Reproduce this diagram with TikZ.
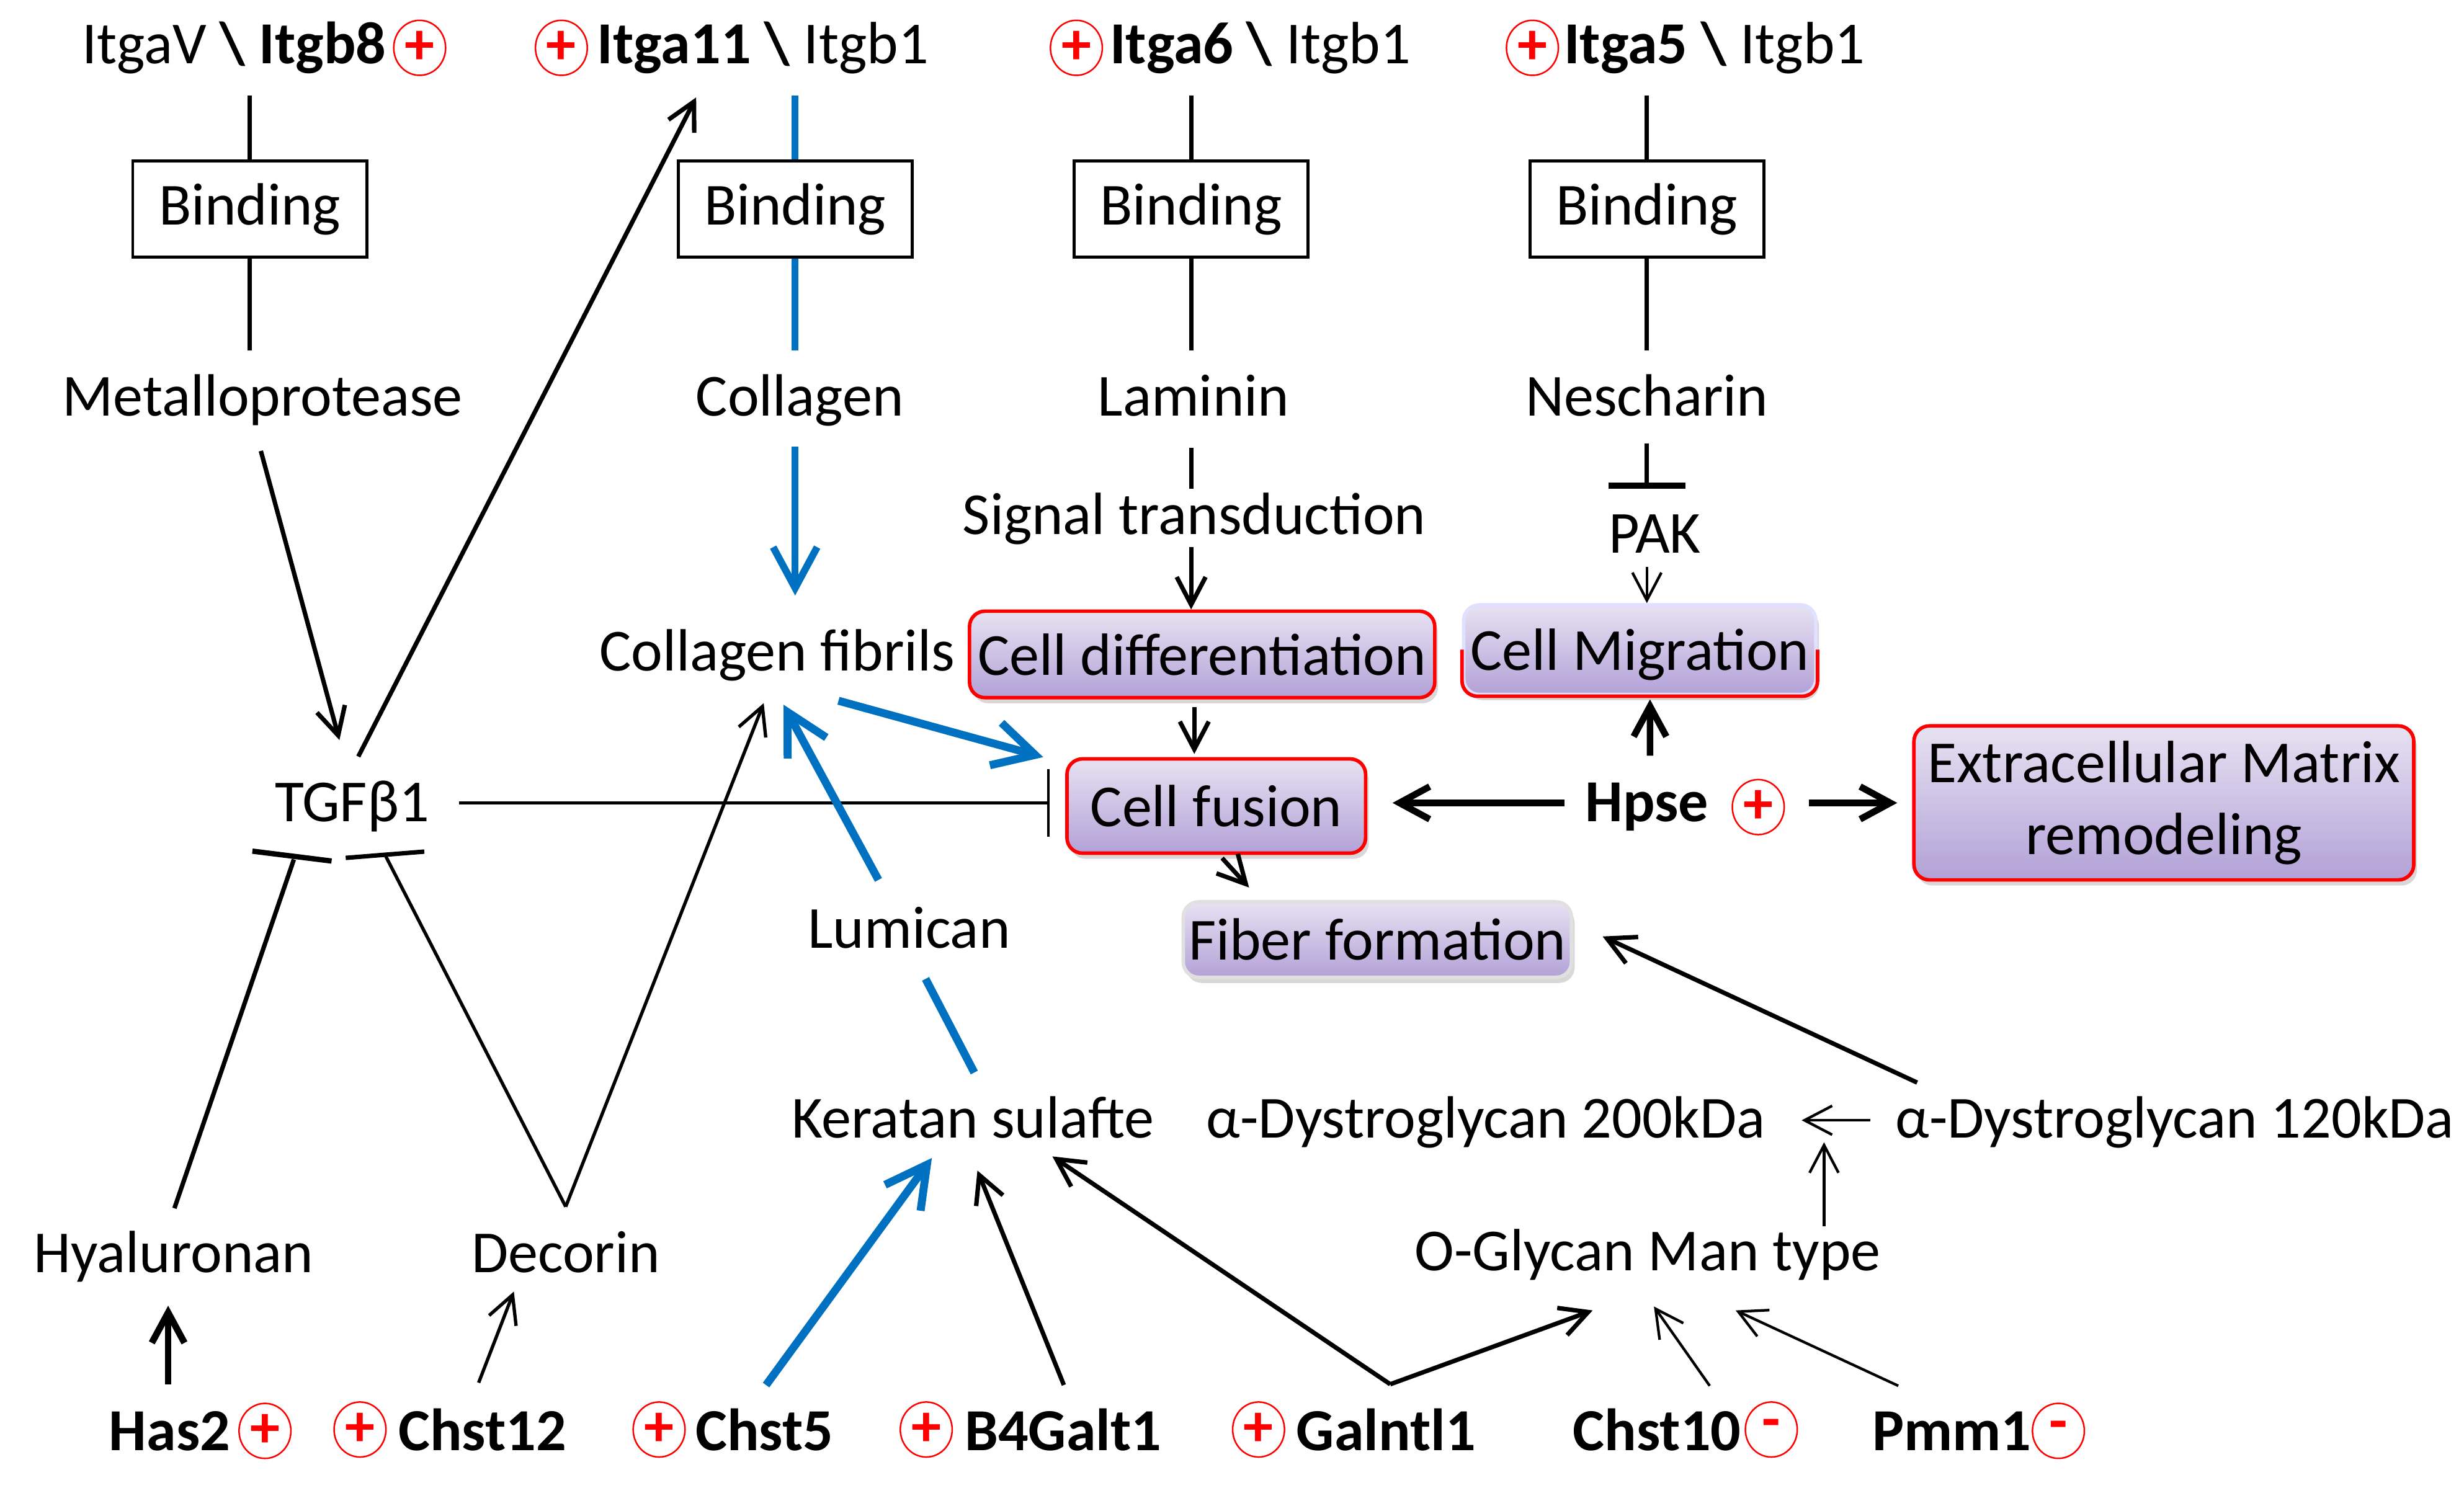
\documentclass[tikz,border=0pt]{standalone}
\usepackage{fontspec}
\setmainfont{Carlito}
\usetikzlibrary{arrows.meta, positioning, calc, shapes.geometric, shadows}
\definecolor{igblue}{HTML}{0070C0}
\definecolor{lavtop}{HTML}{E7E2F2}
\definecolor{lavbot}{HTML}{B3A1D7}
\definecolor{sigred}{HTML}{FF0000}

\begin{document}
\begin{tikzpicture}[x=0.025cm, y=-0.025cm,
  >={Straight Barb[length=4.4mm, width=4.6mm]},
  txt/.style={anchor=base, inner sep=0pt, font=\fontsize{27}{32}\selectfont},
  gene/.style={txt, font=\fontsize{27}{32}\selectfont\bfseries},
  bindbox/.style={draw, line width=1.4pt, minimum width=37.25mm, minimum height=15.25mm,
    inner sep=0pt, font=\fontsize{27}{32}\selectfont},
  procbox/.style={draw=sigred, line width=1.6pt, rounded corners=7pt, top color=lavtop,
    bottom color=lavbot, inner sep=0pt, align=center, font=\fontsize{27}{32.5}\selectfont,
    drop shadow={opacity=0.3, shadow xshift=0.5mm, shadow yshift=-0.9mm}},
  upmark/.style={ellipse, draw=sigred, line width=0.7pt, minimum width=8.25mm,
    minimum height=8.75mm, inner sep=0pt, text=sigred, font=\fontsize{27}{32}\selectfont\bfseries},
  link/.style={line width=2pt},
  fine/.style={line width=1.2pt},
  heavy/.style={line width=3pt, -{Straight Barb[length=4.8mm, width=5.2mm]}},
  bluelink/.style={igblue, line width=3pt},
  bluearrow/.style={igblue, line width=3.6pt, -{Straight Barb[length=6.5mm, width=7mm]}}]

% Canvas — 1 unit = one pixel of a 1568 x 947 layout, y runs downwards
\fill[white] (0,0) rectangle (1568,947);
\useasboundingbox (0,0) rectangle (1568,947);

% Integrin receptors (top row, baseline y = 40.5)
\node[txt] (itgav) at (149,40.5) {ItgaV \textbf{\textbackslash\ Itgb8}};
\node[upmark, right=1mm of itgav] (itgavS) {+};
\node[txt] (itga11) at (485.5,40.5) {\textbf{Itga11 \textbackslash} Itgb1};
\node[upmark, left=1.4mm of itga11] (itga11S) {+};
\node[txt] (itga6) at (802,40.5) {\textbf{Itga6 \textbackslash} Itgb1};
\node[upmark, left=1mm of itga6] (itga6S) {+};
\node[txt] (itga5) at (1091,40.5) {\textbf{Itga5 \textbackslash} Itgb1};
\node[upmark, left=0.7mm of itga5] (itga5S) {+};

% Binding boxes
\node[bindbox] (bind1) at (159,133) {Binding};
\node[bindbox] (bind2) at (506,133) {Binding};
\node[bindbox] (bind3) at (758,133) {Binding};
\node[bindbox] (bind4) at (1048,133) {Binding};

% Ligands (baseline y = 264.5)
\node[txt] (metal) at (167,264.5) {Metalloprotease};
\node[txt] (collagen) at (509,264.5) {Collagen};
\node[txt] (laminin) at (759.5,264.5) {Laminin};
\node[txt] (nesch) at (1048,264.5) {Nescharin};
\node[txt] (signal) at (760,340) {Signal transduction};
\node[txt] (pak) at (1053,352) {PAK};

% Processes
\node[txt] (fibrils) at (494.6,427) {Collagen fibrils};
\node[procbox, minimum width=74mm, minimum height=13.75mm] (diff) at (765,416.5) {Cell differentiation};
\node[procbox, draw=blue!12, text depth=0pt, minimum width=56mm, minimum height=14.25mm] (migr) at (1043.5,413.5) {Cell Migration};
\draw[sigred, line width=1.6pt, rounded corners=7pt] (migr.west) |- (migr.south) -| (migr.east);
\node[txt] (tgf) at (224,523) {TGFβ1};
\node[procbox, minimum width=47.5mm, minimum height=15mm] (fusion) at (774,513) {Cell fusion};
\node[gene] (hpse) at (1048,523) {Hpse};
\node[upmark, right=3.6mm of hpse] (hpseS) {+};
\node[procbox, minimum width=79.5mm, minimum height=24.5mm] (ecm) at (1377,511) {Extracellular Matrix\\remodeling};
\node[procbox, draw=black!12, minimum width=61.75mm, minimum height=12mm] (fiber) at (876.5,598) {Fiber formation};
\node[txt] (lumican) at (578.5,603.5) {Lumican};

% Glycans (baseline y = 724 and 809)
\node[txt] (keratan) at (619,724) {Keratan sulafte};
\node[txt] (dg200) at (945.5,724) {α-Dystroglycan 200kDa};
\node[txt] (dg120) at (1384,724) {α-Dystroglycan 120kDa};
\node[txt] (oglycan) at (1048.5,808.5) {O-Glycan Man type};
\node[txt] (hyal) at (110.5,810) {Hyaluronan};
\node[txt] (decorin) at (360,810) {Decorin};

% Genes (bottom row, baseline y = 923)
\node[gene] (has2) at (108,923) {Has2};
\node[upmark, right=1.2mm of has2] (has2S) {+};
\node[gene] (chst12) at (307,923) {Chst12};
\node[upmark, left=1.8mm of chst12] (chst12S) {+};
\node[gene] (chst5) at (486.5,923) {Chst5};
\node[upmark, left=1.5mm of chst5] (chst5S) {+};
\node[gene] (b4galt1) at (676.5,923) {B4Galt1};
\node[upmark, left=1.8mm of b4galt1] (b4galt1S) {+};
\node[gene] (galntl1) at (882,923) {Galntl1};
\node[upmark, left=1.7mm of galntl1] (galntl1S) {+};
\node[gene] (chst10) at (1054.5,923) {Chst10};
\node[upmark, right=0.5mm of chst10] (chst10S) {-};
\node[gene] (pmm1) at (1242,923) {Pmm1};
\node[upmark, right=0mm of pmm1] (pmm1S) {-};

% Receptor -- Binding -- ligand columns
\draw[link, shorten <=5.1mm] (bind1.north |- itgav.base) -- (bind1.north);
\draw[link, shorten >=10.4mm] (bind1.south) -- (bind1.south |- metal.base);
\draw[bluelink, shorten <=5.1mm] (bind2.north |- itga11.base) -- (bind2.north);
\draw[bluelink, shorten >=10.4mm] (bind2.south) -- (bind2.south |- collagen.base);
\draw[link, shorten <=5.1mm] (bind3.north |- itga6.base) -- (bind3.north);
\draw[link, shorten >=10.4mm] (bind3.south) -- (bind3.south |- laminin.base);
\draw[link, shorten <=5.1mm] (bind4.north |- itga5.base) -- (bind4.north);
\draw[link, shorten >=10.4mm] (bind4.south) -- (bind4.south |- nesch.base);

% Collagen -> fibrils
\draw[bluearrow, line width=3.2pt, shorten <=4.9mm, shorten >=12mm] (bind2.south |- collagen.base) -- (bind2.south |- fibrils.base);

% Laminin -- signal transduction -> cell differentiation -> cell fusion
\draw[link, shorten <=5.1mm, shorten >=7.25mm] (bind3.south |- laminin.base) -- (bind3.south |- signal.base);
\draw[link, ->, shorten <=2mm] (bind3.south |- signal.base) -- (bind3.south |- diff.north);
\draw[link, ->, shorten <=1.25mm, shorten >=0.5mm] (diff.south -| signal.base) -- (fusion.north -| signal.base);

% Nescharin -| PAK -> cell migration
\draw[link, -{Bar[width=12.2mm, line width=2.8pt]}, shorten <=4.4mm, shorten >=10.25mm] (bind4.south |- nesch.base) -- (bind4.south |- pak.base);
\draw[fine, ->, shorten <=2.25mm] (bind4.south |- pak.base) -- (bind4.south |- migr.north);

% Collagen fibrils -> cell fusion, TGFb1 -| cell fusion
\draw[bluearrow] ($(fibrils.base)+(39,19)$) -- ($(fusion.north west)+(-14,0)$);
\draw[fine, -{Bar[width=10.8mm]}] ($(tgf.base)+(68,-12)$) -- ($(fusion.west)+(-10,-2)$);

% Metalloprotease -> TGFb1 -> Itga11
\draw[link, ->] ($(metal.base)+(-1,22.5)$) -- ($(tgf.base)+(-8,-52)$);
\draw[link, ->] ($(tgf.base)+(4,-41.5)$) -- ($(itga11.base)+(-42.5,21.5)$);

% Hyaluronan and Decorin -| TGFb1 (bars drawn a bit flatter than the lines)
\coordinate (decTop) at ($(decorin.base)+(0,-42)$);
\draw[link] ($(hyal.base)+(0.5,-41)$) -- ($(tgf.base)+(-37,24)$);
\draw[fine, line width=1.5pt] (decTop) -- ($(tgf.base)+(21.5,22)$);
\draw[line width=2.4pt] ($(tgf.base)+(-63.4,18.7)$) -- ($(tgf.base)+(-13,25)$);
\draw[line width=2pt] ($(tgf.base)+(-4,23)$) -- ($(tgf.base)+(46,19)$);
\draw[fine, line width=1.5pt, ->] (decTop) -- ($(fibrils.base)+(-8.6,20.5)$);

% Keratan sulfate -- Lumican -> collagen fibrils
\draw[bluearrow] ($(lumican.base)+(-19.5,-43.5)$) -- ($(fibrils.base)+(4,21.5)$);
\draw[bluelink, line width=3.6pt] ($(keratan.base)+(1,-41.4)$) -- ($(lumican.base)+(10.5,19.5)$);

% Hpse
\draw[heavy] ($(hpse.base)+(-52.4,-12)$) -- ($(fusion.east)+(16,-2)$);
\draw[heavy] ($(hpse.base)+(103,-12)$) -- ($(ecm.west)+(-9.5,0)$);
\draw[heavy] ($(hpse.base)+(2,-42)$) -- ($(migr.south)+(6.5,2)$);

% Cell fusion -> fiber formation <- a-Dystroglycan 120kDa
\draw[link, ->] ($(fusion.south)+(3.7,2)$) -- ($(fiber.north west)+(43,-8)$);
\draw[link, ->] ($(dg120.base west)+(14,-35)$) -- ($(fiber.east)+(18.7,-2)$);

% a-Dystroglycan 120kDa -> 200kDa, helped by O-Glycan Man type
\draw[fine, ->] ($(dg120.base west)+(-16,-11)$) -- ($(dg200.base east)+(23,-11)$);
\coordinate (dgMid) at ($(dg200.base east)!0.5!(dg120.base west)+(-4,3)$);
\coordinate (ogTop) at ($(oglycan.base)+(0,-28)$);
\draw[fine, ->] (ogTop -| dgMid) -- (dgMid);

% Genes -> glycans
\coordinate (galTop) at ($(galntl1.base)+(2.7,-42)$);
\draw[heavy] ($(has2.base)+(-1,-42)$) -- ($(hyal.base)+(-3.5,21)$);
\draw[fine, line width=1.5pt, ->] ($(chst12.base)+(-2.4,-43)$) -- ($(decorin.base)+(-33,12)$);
\draw[bluearrow] ($(chst5.base)+(1,-41.5)$) -- ($(keratan.base)+(-26,13)$);
\draw[link, ->] ($(b4galt1.base)+(0.5,-41.5)$) -- ($(keratan.base)+(3,21)$);
\draw[link, ->] (galTop) -- ($(keratan.base)+(50.7,12)$);
\draw[link, ->] (galTop) -- ($(oglycan.base)+(-35,25.5)$);
\draw[fine, ->] ($(chst10.base)+(33.5,-41)$) -- ($(oglycan.base)+(4,23)$);
\draw[fine, ->] ($(pmm1.base)+(-34,-41)$) -- ($(oglycan.base)+(56,25.5)$);

\end{tikzpicture}
\end{document}
